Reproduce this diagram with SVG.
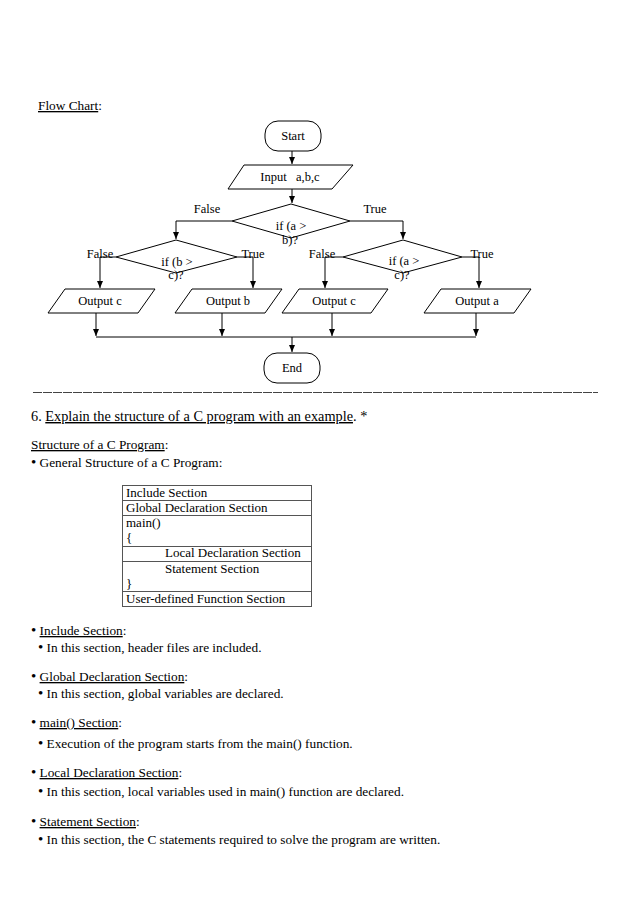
<svg xmlns="http://www.w3.org/2000/svg" width="638" height="903" viewBox="0 0 638 903">
<style>
text{font-family:"Liberation Serif","Times New Roman",serif;fill:#000}
.fc{font-size:12.5px;text-anchor:middle}
.body{font-size:13.3px}
.title{font-size:14.3px}
.tb{font-size:13px}
.b{font-size:15px}
.shape{fill:#fff;stroke:#000;stroke-width:1}
.conn{fill:none;stroke:#000;stroke-width:1}
.u{text-decoration:underline}
</style>
<defs>
<marker id="arr" markerUnits="userSpaceOnUse" markerWidth="8" markerHeight="8" refX="7" refY="4" orient="auto">
<path d="M0,1 L7,4 L0,7 Z" fill="#000"/>
</marker>
</defs>
<rect width="638" height="903" fill="#fff"/>

<text class="body" x="38" y="110"><tspan class="u">Flow Chart</tspan>:</text>

<g id="connectors">
<path class="conn" d="M292,151 V164" marker-end="url(#arr)"/>
<path class="conn" d="M292,189 V203" marker-end="url(#arr)"/>
<path class="conn" d="M232,221 H176 V239" marker-end="url(#arr)"/>
<path class="conn" d="M350,221 H403 V239" marker-end="url(#arr)"/>
<path class="conn" d="M116,257 H100 V288" marker-end="url(#arr)"/>
<path class="conn" d="M237,257 H253 V288" marker-end="url(#arr)"/>
<path class="conn" d="M343,257 H325 V288" marker-end="url(#arr)"/>
<path class="conn" d="M462,257 H479 V288" marker-end="url(#arr)"/>
<path class="conn" d="M96,313 V336" marker-end="url(#arr)"/>
<path class="conn" d="M222,313 V336" marker-end="url(#arr)"/>
<path class="conn" d="M332,313 V336" marker-end="url(#arr)"/>
<path class="conn" d="M476,313 V336" marker-end="url(#arr)"/>
<path class="conn" d="M96,337 H476"/>
<path class="conn" d="M292,337 V352" marker-end="url(#arr)"/>
<text class="fc" x="207" y="213">False</text>
<text class="fc" x="375" y="213">True</text>
<text class="fc" x="100" y="258">False</text>
<text class="fc" x="253" y="258">True</text>
<text class="fc" x="322" y="258">False</text>
<text class="fc" x="482" y="258">True</text>
</g>

<g id="start">
<rect class="shape" x="265" y="121" width="56" height="30" rx="13" ry="13"/>
<text class="fc" x="293" y="140">Start</text>
</g>
<g id="input">
<path class="shape" d="M244,165 H353 L332,189 H228 Z"/>
<text class="fc" x="290" y="181" xml:space="preserve">Input   a,b,c</text>
</g>
<g id="dec1">
<path class="shape" d="M291,204 L350,221 L291,238 L232,221 Z"/>
<text class="fc" x="291" y="230">if (a &gt;</text>
<text class="fc" x="290" y="244">b)?</text>
</g>
<g id="dec2">
<path class="shape" d="M176,240 L237,257 L176,273 L116,257 Z"/>
<text class="fc" x="177" y="266">if (b &gt;</text>
<text class="fc" x="176" y="279">c)?</text>
</g>
<g id="dec3">
<path class="shape" d="M403,240 L462,257 L403,273 L343,257 Z"/>
<text class="fc" x="404" y="265">if (a &gt;</text>
<text class="fc" x="402" y="279">c)?</text>
</g>
<g id="outc1">
<path class="shape" d="M65,289 H155 L138,313 H48 Z"/>
<text class="fc" x="100" y="305">Output  c</text>
</g>
<g id="outb">
<path class="shape" d="M192,289 H282 L265,313 H175 Z"/>
<text class="fc" x="228" y="305">Output  b</text>
</g>
<g id="outc2">
<path class="shape" d="M299,289 H388 L371,313 H282 Z"/>
<text class="fc" x="334" y="305">Output  c</text>
</g>
<g id="outa">
<path class="shape" d="M441,289 H531 L514,313 H424 Z"/>
<text class="fc" x="477" y="305">Output  a</text>
</g>
<g id="end">
<rect class="shape" x="264" y="353" width="56" height="30" rx="13" ry="13"/>
<text class="fc" x="292" y="372">End</text>
</g>

<line x1="33" y1="392.5" x2="598" y2="392.5" stroke="#444" stroke-width="1" stroke-dasharray="9,1"/>

<text class="title" x="31" y="421">6. <tspan class="u">Explain the structure of a C program with an example</tspan>. *</text>
<text class="body" x="31" y="449"><tspan class="u">Structure of a C Program</tspan>:</text>
<text class="body" x="31" y="467"><tspan class="b">•</tspan> General Structure of a C Program:</text>

<g id="table">
<rect x="122.5" y="485.5" width="189" height="121" fill="#fff" stroke="#555" stroke-width="1"/>
<g stroke="#555" stroke-width="1">
<line x1="122.5" y1="500.5" x2="311.5" y2="500.5"/>
<line x1="122.5" y1="515.5" x2="311.5" y2="515.5"/>
<line x1="122.5" y1="546.5" x2="311.5" y2="546.5"/>
<line x1="122.5" y1="561.5" x2="311.5" y2="561.5"/>
<line x1="122.5" y1="591.5" x2="311.5" y2="591.5"/>
</g>
<text class="tb" x="126" y="497">Include Section</text>
<text class="tb" x="126" y="512">Global Declaration Section</text>
<text class="tb" x="126" y="527">main()</text>
<text class="tb" x="126" y="542">{</text>
<text class="tb" x="165" y="557">Local Declaration Section</text>
<text class="tb" x="165" y="573">Statement Section</text>
<text class="tb" x="126" y="588">}</text>
<text class="tb" x="126" y="603">User-defined Function Section</text>
</g>

<text class="body" x="31" y="635"><tspan class="b">•</tspan> <tspan class="u">Include Section</tspan>:</text>
<text class="body" x="38" y="652"><tspan class="b">•</tspan> In this section, header files are included.</text>
<text class="body" x="31" y="681"><tspan class="b">•</tspan> <tspan class="u">Global Declaration Section</tspan>:</text>
<text class="body" x="38" y="698"><tspan class="b">•</tspan> In this section, global variables are declared.</text>
<text class="body" x="31" y="727"><tspan class="b">•</tspan> <tspan class="u">main() Section</tspan>:</text>
<text class="body" x="38" y="748"><tspan class="b">•</tspan> Execution of the program starts from the main() function.</text>
<text class="body" x="31" y="777"><tspan class="b">•</tspan> <tspan class="u">Local Declaration Section</tspan>:</text>
<text class="body" x="38" y="796"><tspan class="b">•</tspan> In this section, local variables used in main() function are declared.</text>
<text class="body" x="31" y="826"><tspan class="b">•</tspan> <tspan class="u">Statement Section</tspan>:</text>
<text class="body" x="38" y="844"><tspan class="b">•</tspan> In this section, the C statements required to solve the program are written.</text>
</svg>
